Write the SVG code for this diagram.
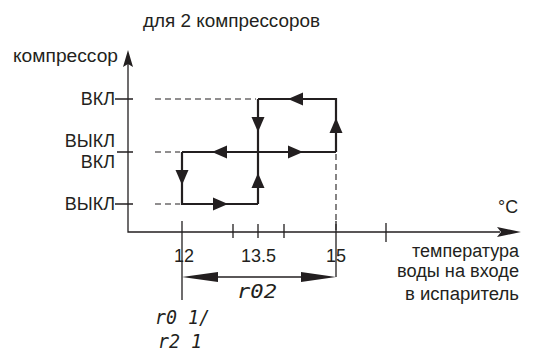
<svg xmlns="http://www.w3.org/2000/svg" width="533" height="352" viewBox="0 0 533 352">
<style>
text{font-family:"Liberation Sans",Arial,sans-serif;fill:#231f20}
.lbl{font-size:18px}
.seg{font-family:"DejaVu Sans Mono",monospace;font-style:italic;font-size:20px;font-weight:300}
.ax{stroke:#231f20;stroke-width:1.3;fill:none}
.dash{stroke:#231f20;stroke-width:1.1;stroke-dasharray:6 4;fill:none}
.cyc{stroke:#231f20;stroke-width:2.2;fill:none}
.ah{fill:#231f20}
</style>
<rect width="533" height="352" fill="#fff"/>
<text class="lbl" x="143" y="27" textLength="177" lengthAdjust="spacingAndGlyphs">для 2 компрессоров</text>
<g id="axes">
<path class="ax" d="M128,64 V232 H500"/>
<path class="ah" d="M128,50 L133,67 L128,64 L123,67 Z"/>
<path class="ah" d="M521,232 L497,227 L501,232 L497,237 Z"/>
<text class="lbl" x="13" y="62" textLength="105" lengthAdjust="spacingAndGlyphs">компрессор</text>
<text class="lbl" x="498" y="213" textLength="20" lengthAdjust="spacingAndGlyphs">°C</text>
</g>
<g id="y-labels">
<text class="lbl" x="115" y="105" text-anchor="end">ВКЛ</text>
<text class="lbl" x="115" y="147" text-anchor="end">ВЫКЛ</text>
<text class="lbl" x="115" y="168" text-anchor="end">ВКЛ</text>
<text class="lbl" x="115" y="210" text-anchor="end">ВЫКЛ</text>
<path class="ax" d="M115,99 H133 M117,152 H133 M115,204 H133"/>
</g>
<g id="x-ticks">
<path class="ax" d="M182,221 V300 M233,224 V238 M258,224 V238 M284,224 V238 M336,221 V277 M386,223 V242"/>
<text class="lbl" x="184" y="262" text-anchor="middle">12</text>
<text class="lbl" x="258.5" y="262" text-anchor="middle">13.5</text>
<text class="lbl" x="336" y="262" text-anchor="middle">15</text>
<text class="lbl" x="519" y="257" text-anchor="end" textLength="107" lengthAdjust="spacingAndGlyphs">температура</text>
<text class="lbl" x="519" y="277" text-anchor="end" textLength="122" lengthAdjust="spacingAndGlyphs">воды на входе</text>
<text class="lbl" x="519" y="300" text-anchor="end" textLength="114" lengthAdjust="spacingAndGlyphs">в испаритель</text>
</g>
<g id="range">
<path class="ax" d="M200,277 H318"/>
<path class="ah" d="M182,277 L218,272 L218,282 Z"/>
<path class="ah" d="M336,277 L301,272 L301,282 Z"/>
<text class="seg" x="237" y="298" textLength="40" lengthAdjust="spacingAndGlyphs">r02</text>
<text class="seg" x="155" y="324" textLength="55" lengthAdjust="spacingAndGlyphs">r0 1/</text>
<text class="seg" x="158" y="348" textLength="44" lengthAdjust="spacingAndGlyphs">r2 1</text>
</g>
<g id="connectors">
<path class="dash" d="M155,99 H256 M155,152 H180 M155,204 H180 M336,154 V232"/>
<path class="cyc" d="M258,99 H336 V152 M182,152 H336 M258,99 V204 M182,152 V204 H258"/>
<path class="ah" d="M288,99 L303,92.5 L303,105.5 Z"/>
<path class="ah" d="M336,118 L329.5,133 L342.5,133 Z"/>
<path class="ah" d="M258,132 L251.5,117 L264.5,117 Z"/>
<path class="ah" d="M212,152 L227,145.5 L227,158.5 Z"/>
<path class="ah" d="M303,152 L288,145.5 L288,158.5 Z"/>
<path class="ah" d="M182,185 L175.5,170 L188.5,170 Z"/>
<path class="ah" d="M258,173 L251.5,188 L264.5,188 Z"/>
<path class="ah" d="M228,204 L213,197.5 L213,210.5 Z"/>
</g>
</svg>
